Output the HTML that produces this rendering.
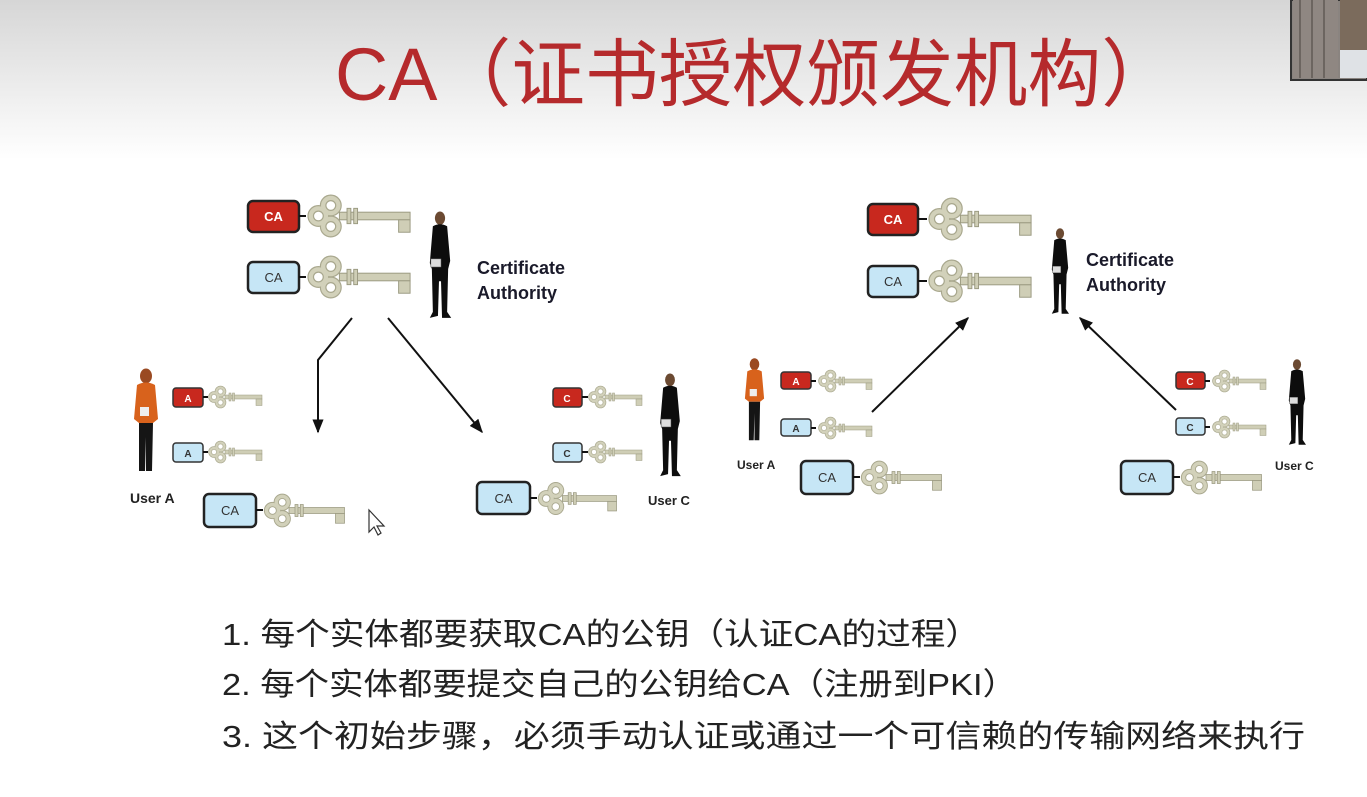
<!DOCTYPE html>
<html><head><meta charset="utf-8"><style>
html,body{margin:0;padding:0;background:#fff;}
svg{display:block;}
</style></head><body>
<svg width="1367" height="797" viewBox="0 0 1367 797" xmlns="http://www.w3.org/2000/svg">
<defs>
<linearGradient id="bg" x1="0" y1="0" x2="0" y2="1">
<stop offset="0" stop-color="#d6d6d6"/><stop offset="1" stop-color="#ffffff"/>
</linearGradient>
<symbol id="key" viewBox="-2 -22 112 44" overflow="visible">
<g fill="none" stroke="#a9a88e" stroke-width="7">
<circle cx="12" cy="0" r="8"/><circle cx="25" cy="-11" r="8"/><circle cx="25" cy="11" r="8"/>
</g>
<g fill="none" stroke="#d2d1ba" stroke-width="4.5">
<circle cx="12" cy="0" r="8"/><circle cx="25" cy="-11" r="8"/><circle cx="25" cy="11" r="8"/>
</g>
<rect x="34" y="-4" width="74" height="8" fill="#cfceb6" stroke="#9a9980" stroke-width="1"/>
<rect x="42" y="-8" width="4" height="16" fill="#cfceb6" stroke="#9a9980" stroke-width="1"/>
<rect x="49" y="-8" width="4" height="16" fill="#cfceb6" stroke="#9a9980" stroke-width="1"/>
<rect x="96" y="4" width="12" height="13" fill="#cfceb6" stroke="#9a9980" stroke-width="1"/>
</symbol>
<symbol id="man" viewBox="0 0 30 110">
<ellipse cx="15" cy="8" rx="5" ry="6.5" fill="#6b4a32"/>
<path d="M8 16 Q15 12 22 16 L25 50 L23 58 L22 100 L26 106 L17 106 L16 70 L14 70 L13 104 L5 106 L8 100 L7 58 L5 52 Z" fill="#0d0d0d"/>
<rect x="6" y="48" width="10" height="8" fill="#ddd" stroke="#555" stroke-width="0.5"/>
</symbol>
<symbol id="woman" viewBox="0 0 30 110">
<ellipse cx="15" cy="9" rx="6" ry="7.5" fill="#9a4a22"/>
<path d="M6 18 Q15 13 24 18 L27 52 L22 56 L8 56 L3 52 Z" fill="#d8621c"/>
<path d="M8 56 L22 56 L21 104 L15 104 L15 70 L14 104 L8 104 Z" fill="#151515"/>
<rect x="9" y="40" width="9" height="9" fill="#eee"/>
</symbol>
<marker id="ah" viewBox="0 0 10 10" refX="9" refY="5" markerWidth="7" markerHeight="7" orient="auto">
<path d="M0 1 L10 5 L0 9 Z" fill="#111"/>
</marker>
</defs>
<rect x="0" y="0" width="1367" height="160" fill="url(#bg)"/>
<!-- thumbnail -->
<rect x="1291" y="0" width="76" height="80" fill="#8a8480" stroke="#333" stroke-width="2"/>
<rect x="1293" y="0" width="45" height="78" fill="#8f8782"/>
<g stroke="#6c6560" stroke-width="2"><line x1="1300" y1="0" x2="1300" y2="78"/><line x1="1312" y1="0" x2="1312" y2="78"/><line x1="1324" y1="0" x2="1324" y2="78"/></g>
<rect x="1340" y="0" width="27" height="50" fill="#7b6b5c"/>
<rect x="1340" y="50" width="27" height="28" fill="#dfe2e6"/>

<text x="335" y="100" font-family="Liberation Sans, Noto Sans CJK SC, sans-serif" font-size="74" fill="#b52a2c" textLength="840" lengthAdjust="spacingAndGlyphs">CA（证书授权颁发机构）</text>

<g font-family="Liberation Sans, sans-serif" font-weight="bold">
<!-- LEFT DIAGRAM -->
<rect x="248" y="201" width="51" height="31" rx="5" fill="#c8281e" stroke="#222" stroke-width="2.5"/>
<text x="273.5" y="221" font-size="13" fill="#fff" text-anchor="middle">CA</text>
<line x1="299" y1="216" x2="306" y2="216" stroke="#111" stroke-width="2"/>
<use href="#key" x="305" y="194" width="107" height="44"/>
<rect x="248" y="262" width="51" height="31" rx="5" fill="#c6e6f6" stroke="#222" stroke-width="2.5"/>
<text x="273.5" y="282" font-size="13" fill="#333" text-anchor="middle" font-weight="normal">CA</text>
<line x1="299" y1="277" x2="306" y2="277" stroke="#111" stroke-width="2"/>
<use href="#key" x="305" y="255" width="107" height="44"/>
<use href="#man" x="424" y="210" width="32" height="112"/>
<text x="477" y="274" font-size="18" fill="#1a1a2a">Certificate</text>
<text x="477" y="299" font-size="18" fill="#1a1a2a">Authority</text>

<polyline points="352,318 318,360 318,432" fill="none" stroke="#111" stroke-width="2" marker-end="url(#ah)"/>
<line x1="388" y1="318" x2="482" y2="432" stroke="#111" stroke-width="2" marker-end="url(#ah)"/>

<use href="#woman" x="131" y="367" width="30" height="110"/>
<text x="130" y="503" font-size="14" fill="#222">User A</text>
<rect x="173" y="388" width="30" height="19" rx="3" fill="#c8281e" stroke="#333" stroke-width="1.5"/>
<text x="188" y="402" font-size="10" fill="#fff" text-anchor="middle">A</text>
<line x1="203" y1="397" x2="208" y2="397" stroke="#111" stroke-width="2"/>
<use href="#key" x="207" y="385" width="56" height="24"/>
<rect x="173" y="443" width="30" height="19" rx="3" fill="#c6e6f6" stroke="#333" stroke-width="1.5"/>
<text x="188" y="457" font-size="10" fill="#333" text-anchor="middle">A</text>
<line x1="203" y1="452" x2="208" y2="452" stroke="#111" stroke-width="2"/>
<use href="#key" x="207" y="440" width="56" height="24"/>
<rect x="204" y="494" width="52" height="33" rx="5" fill="#c6e6f6" stroke="#222" stroke-width="2.5"/>
<text x="230" y="515" font-size="13" fill="#333" text-anchor="middle" font-weight="normal">CA</text>
<line x1="256" y1="510" x2="263" y2="510" stroke="#111" stroke-width="2"/>
<use href="#key" x="262" y="493" width="84" height="35"/>
<path d="M369 510 L369 532 L374 527 L378 535 L381 533 L377 526 L384 526 Z" fill="#fff" stroke="#333" stroke-width="1.2"/>

<rect x="553" y="388" width="29" height="19" rx="3" fill="#c8281e" stroke="#333" stroke-width="1.5"/>
<text x="567" y="402" font-size="10" fill="#fff" text-anchor="middle">C</text>
<line x1="582" y1="397" x2="588" y2="397" stroke="#111" stroke-width="2"/>
<use href="#key" x="587" y="385" width="56" height="24"/>
<rect x="553" y="443" width="29" height="19" rx="3" fill="#c6e6f6" stroke="#333" stroke-width="1.5"/>
<text x="567" y="457" font-size="10" fill="#333" text-anchor="middle">C</text>
<line x1="582" y1="452" x2="588" y2="452" stroke="#111" stroke-width="2"/>
<use href="#key" x="587" y="440" width="56" height="24"/>
<rect x="477" y="482" width="53" height="32" rx="5" fill="#c6e6f6" stroke="#222" stroke-width="2.5"/>
<text x="503.5" y="503" font-size="13" fill="#333" text-anchor="middle" font-weight="normal">CA</text>
<line x1="530" y1="498" x2="537" y2="498" stroke="#111" stroke-width="2"/>
<use href="#key" x="536" y="481" width="82" height="35"/>
<use href="#man" x="654" y="372" width="32" height="108"/>
<text x="648" y="505" font-size="13" fill="#222">User C</text>

<!-- RIGHT DIAGRAM -->
<rect x="868" y="204" width="50" height="31" rx="5" fill="#c8281e" stroke="#222" stroke-width="2.5"/>
<text x="893" y="224" font-size="13" fill="#fff" text-anchor="middle">CA</text>
<line x1="918" y1="219" x2="927" y2="219" stroke="#111" stroke-width="2"/>
<use href="#key" x="926" y="197" width="107" height="44"/>
<rect x="868" y="266" width="50" height="31" rx="5" fill="#c6e6f6" stroke="#222" stroke-width="2.5"/>
<text x="893" y="286" font-size="13" fill="#333" text-anchor="middle" font-weight="normal">CA</text>
<line x1="918" y1="281" x2="927" y2="281" stroke="#111" stroke-width="2"/>
<use href="#key" x="926" y="259" width="107" height="44"/>
<use href="#man" x="1045" y="227" width="30" height="90"/>
<text x="1086" y="266" font-size="18" fill="#1a1a2a">Certificate</text>
<text x="1086" y="291" font-size="18" fill="#1a1a2a">Authority</text>

<line x1="872" y1="412" x2="968" y2="318" stroke="#111" stroke-width="2" marker-end="url(#ah)"/>
<line x1="1176" y1="410" x2="1080" y2="318" stroke="#111" stroke-width="2" marker-end="url(#ah)"/>

<use href="#woman" x="740" y="357" width="29" height="88"/>
<text x="737" y="469" font-size="12" fill="#222">User A</text>
<rect x="781" y="372" width="30" height="17" rx="3" fill="#c8281e" stroke="#333" stroke-width="1.5"/>
<text x="796" y="385" font-size="10" fill="#fff" text-anchor="middle">A</text>
<line x1="811" y1="381" x2="816" y2="381" stroke="#111" stroke-width="2"/>
<use href="#key" x="815" y="370" width="60" height="22"/>
<rect x="781" y="419" width="30" height="17" rx="3" fill="#c6e6f6" stroke="#333" stroke-width="1.5"/>
<text x="796" y="432" font-size="10" fill="#333" text-anchor="middle">A</text>
<line x1="811" y1="428" x2="816" y2="428" stroke="#111" stroke-width="2"/>
<use href="#key" x="815" y="417" width="60" height="22"/>
<rect x="801" y="461" width="52" height="33" rx="5" fill="#c6e6f6" stroke="#222" stroke-width="2.5"/>
<text x="827" y="482" font-size="13" fill="#333" text-anchor="middle" font-weight="normal">CA</text>
<line x1="853" y1="477" x2="860" y2="477" stroke="#111" stroke-width="2"/>
<use href="#key" x="859" y="460" width="84" height="35"/>

<rect x="1176" y="372" width="29" height="17" rx="3" fill="#c8281e" stroke="#333" stroke-width="1.5"/>
<text x="1190" y="385" font-size="10" fill="#fff" text-anchor="middle">C</text>
<line x1="1205" y1="381" x2="1210" y2="381" stroke="#111" stroke-width="2"/>
<use href="#key" x="1209" y="370" width="60" height="22"/>
<rect x="1176" y="418" width="29" height="17" rx="3" fill="#c6e6f6" stroke="#333" stroke-width="1.5"/>
<text x="1190" y="431" font-size="10" fill="#333" text-anchor="middle">C</text>
<line x1="1205" y1="427" x2="1210" y2="427" stroke="#111" stroke-width="2"/>
<use href="#key" x="1209" y="416" width="60" height="22"/>
<rect x="1121" y="461" width="52" height="33" rx="5" fill="#c6e6f6" stroke="#222" stroke-width="2.5"/>
<text x="1147" y="482" font-size="13" fill="#333" text-anchor="middle" font-weight="normal">CA</text>
<line x1="1173" y1="477" x2="1180" y2="477" stroke="#111" stroke-width="2"/>
<use href="#key" x="1179" y="460" width="84" height="35"/>
<use href="#man" x="1282" y="358" width="30" height="90"/>
<text x="1275" y="470" font-size="12" fill="#222">User C</text>
</g>

<g font-family="Liberation Sans, Noto Sans CJK SC, sans-serif" font-size="31" fill="#222">
<text x="222" y="645" textLength="758" lengthAdjust="spacingAndGlyphs">1. 每个实体都要获取CA的公钥（认证CA的过程）</text>
<text x="222" y="695" textLength="795" lengthAdjust="spacingAndGlyphs">2. 每个实体都要提交自己的公钥给CA（注册到PKI）</text>
<text x="222" y="747" textLength="1083" lengthAdjust="spacingAndGlyphs">3. 这个初始步骤，必须手动认证或通过一个可信赖的传输网络来执行</text>
</g>
</svg>
</body></html>
